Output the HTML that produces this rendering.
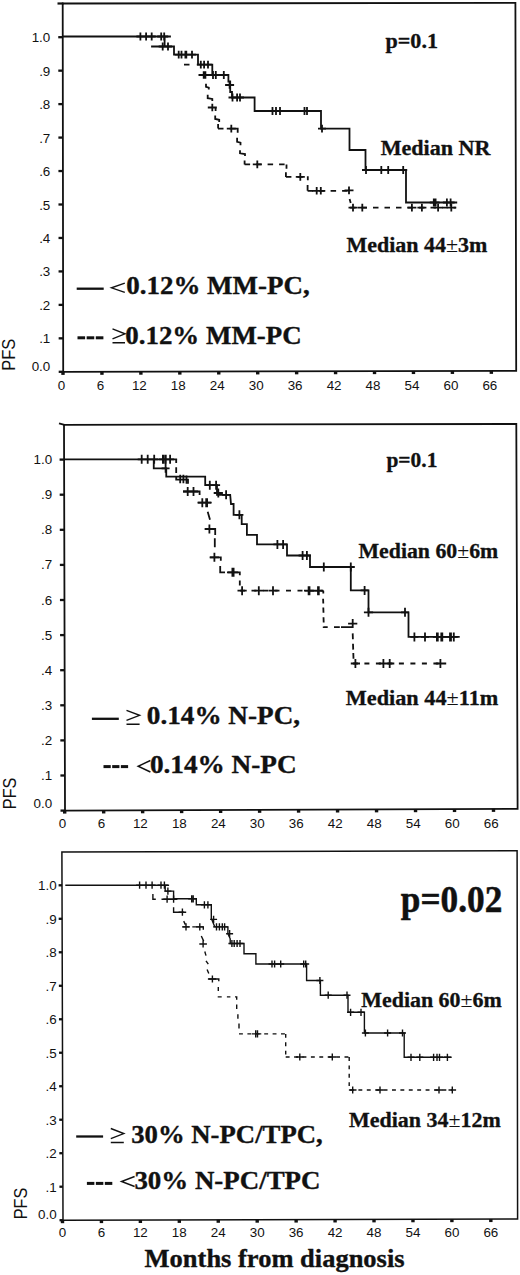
<!DOCTYPE html>
<html><head><meta charset="utf-8"><style>
html,body{margin:0;padding:0;background:#fff;}
svg{display:block;}
</style></head><body>
<svg width="520" height="1275" viewBox="0 0 520 1275">
<rect width="520" height="1275" fill="#fff"/>
<path d="M63.2,371.9 L62.7,3.5 L515.4,2.9 L516.2,370.8 Z" fill="none" stroke="#111" stroke-width="1.8" stroke-linejoin="miter"/>
<rect x="57.5" y="2.4" width="6" height="2.2" fill="#111"/>
<rect x="58.70" y="370.65" width="4.5" height="2.3" fill="#111"/>
<text x="50.30" y="370.80" font-family="Liberation Sans" font-size="13.4" text-anchor="end" fill="#111">0.0</text>
<rect x="58.65" y="337.19" width="4.5" height="2.3" fill="#111"/>
<text x="50.30" y="343.34" font-family="Liberation Sans" font-size="13.4" text-anchor="end" fill="#111">.1</text>
<rect x="58.61" y="303.73" width="4.5" height="2.3" fill="#111"/>
<text x="50.30" y="309.88" font-family="Liberation Sans" font-size="13.4" text-anchor="end" fill="#111">.2</text>
<rect x="58.56" y="270.27" width="4.5" height="2.3" fill="#111"/>
<text x="50.30" y="276.42" font-family="Liberation Sans" font-size="13.4" text-anchor="end" fill="#111">.3</text>
<rect x="58.52" y="236.81" width="4.5" height="2.3" fill="#111"/>
<text x="50.30" y="242.96" font-family="Liberation Sans" font-size="13.4" text-anchor="end" fill="#111">.4</text>
<rect x="58.47" y="203.35" width="4.5" height="2.3" fill="#111"/>
<text x="50.30" y="209.50" font-family="Liberation Sans" font-size="13.4" text-anchor="end" fill="#111">.5</text>
<rect x="58.43" y="169.89" width="4.5" height="2.3" fill="#111"/>
<text x="50.30" y="176.04" font-family="Liberation Sans" font-size="13.4" text-anchor="end" fill="#111">.6</text>
<rect x="58.38" y="136.43" width="4.5" height="2.3" fill="#111"/>
<text x="50.30" y="142.58" font-family="Liberation Sans" font-size="13.4" text-anchor="end" fill="#111">.7</text>
<rect x="58.34" y="102.97" width="4.5" height="2.3" fill="#111"/>
<text x="50.30" y="109.12" font-family="Liberation Sans" font-size="13.4" text-anchor="end" fill="#111">.8</text>
<rect x="58.29" y="69.51" width="4.5" height="2.3" fill="#111"/>
<text x="50.30" y="75.66" font-family="Liberation Sans" font-size="13.4" text-anchor="end" fill="#111">.9</text>
<rect x="58.25" y="36.05" width="4.5" height="2.3" fill="#111"/>
<text x="50.30" y="42.20" font-family="Liberation Sans" font-size="13.4" text-anchor="end" fill="#111">1.0</text>
<rect x="61.30" y="371.90" width="3.4" height="3" fill="#111"/>
<text x="61.50" y="389.60" font-family="Liberation Sans" font-size="13.4" text-anchor="middle" fill="#111">0</text>
<rect x="100.24" y="371.81" width="3.4" height="3" fill="#111"/>
<text x="100.44" y="389.60" font-family="Liberation Sans" font-size="13.4" text-anchor="middle" fill="#111">6</text>
<rect x="139.18" y="371.71" width="3.4" height="3" fill="#111"/>
<text x="139.38" y="389.60" font-family="Liberation Sans" font-size="13.4" text-anchor="middle" fill="#111">12</text>
<rect x="178.12" y="371.62" width="3.4" height="3" fill="#111"/>
<text x="178.32" y="389.60" font-family="Liberation Sans" font-size="13.4" text-anchor="middle" fill="#111">18</text>
<rect x="217.06" y="371.52" width="3.4" height="3" fill="#111"/>
<text x="217.26" y="389.60" font-family="Liberation Sans" font-size="13.4" text-anchor="middle" fill="#111">24</text>
<rect x="256.00" y="371.43" width="3.4" height="3" fill="#111"/>
<text x="256.20" y="389.60" font-family="Liberation Sans" font-size="13.4" text-anchor="middle" fill="#111">30</text>
<rect x="294.94" y="371.33" width="3.4" height="3" fill="#111"/>
<text x="295.14" y="389.60" font-family="Liberation Sans" font-size="13.4" text-anchor="middle" fill="#111">36</text>
<rect x="333.88" y="371.24" width="3.4" height="3" fill="#111"/>
<text x="334.08" y="389.60" font-family="Liberation Sans" font-size="13.4" text-anchor="middle" fill="#111">42</text>
<rect x="372.82" y="371.14" width="3.4" height="3" fill="#111"/>
<text x="373.02" y="389.60" font-family="Liberation Sans" font-size="13.4" text-anchor="middle" fill="#111">48</text>
<rect x="411.76" y="371.05" width="3.4" height="3" fill="#111"/>
<text x="411.96" y="389.60" font-family="Liberation Sans" font-size="13.4" text-anchor="middle" fill="#111">54</text>
<rect x="450.70" y="370.95" width="3.4" height="3" fill="#111"/>
<text x="450.90" y="389.60" font-family="Liberation Sans" font-size="13.4" text-anchor="middle" fill="#111">60</text>
<rect x="489.64" y="370.86" width="3.4" height="3" fill="#111"/>
<text x="489.84" y="389.60" font-family="Liberation Sans" font-size="13.4" text-anchor="middle" fill="#111">66</text>
<text transform="translate(15,370.8) rotate(-90)" x="0" y="0" font-family="Liberation Sans" font-size="18" textLength="32" lengthAdjust="spacingAndGlyphs" fill="#111">PFS</text>
<text x="385.5" y="47.7" font-family="Liberation Serif" font-weight="bold" font-size="20" textLength="52.5" lengthAdjust="spacingAndGlyphs" stroke="#111" stroke-width="0.3" fill="#111">p=0.1</text>
<text x="380.7" y="154.7" font-family="Liberation Serif" font-weight="bold" font-size="20.5" textLength="109.8" lengthAdjust="spacingAndGlyphs" stroke="#111" stroke-width="0.3" fill="#111">Median NR</text>
<text x="346.4" y="251.6" font-family="Liberation Serif" font-weight="bold" font-size="20.5" textLength="141" lengthAdjust="spacingAndGlyphs" stroke="#111" stroke-width="0.3" fill="#111">Median 44<tspan font-weight='normal' stroke-width='0'>±</tspan>3m</text>
<rect x="76.7" y="287.55" width="27.00" height="2.3" fill="#111"/>
<path d="M124.8,283.2 L111.5,287.79999999999995 L124.8,292.4" fill="none" stroke="#111" stroke-width="1.4"/>
<text x="126.2" y="294.3" font-family="Liberation Serif" font-weight="bold" font-size="25.6" textLength="183.5" lengthAdjust="spacingAndGlyphs" stroke="#111" stroke-width="0.35" fill="#111">0.12% MM-PC,</text>
<rect x="77.50" y="336.3" width="7.62" height="3" fill="#111"/>
<rect x="86.64" y="336.3" width="7.62" height="3" fill="#111"/>
<rect x="95.78" y="336.3" width="7.62" height="3" fill="#111"/>
<path d="M112.5,328.8 L125,333.84000000000003 L112.5,338.88 M112.5,342.8 H125" fill="none" stroke="#111" stroke-width="1.4"/>
<text x="125.3" y="343.6" font-family="Liberation Serif" font-weight="bold" font-size="25.6" textLength="176.3" lengthAdjust="spacingAndGlyphs" stroke="#111" stroke-width="0.35" fill="#111">0.12% MM-PC</text>
<path d="M63,36.5 H170 M164.6,36.5 V46.5 M152,46.5 H174 V54.6 H198 V64.7 H212.3 V75 H228.4 V81.5 H230.2 V92 H232 V97.5 H254.6 V111 H321 V128.7 H349.5 V150 H365.5 V170 H406 V202.5 H456.3" fill="none" stroke="#111" stroke-width="1.8" stroke-linejoin="miter" stroke-linecap="square"/>
<path d="M184,64.7 L189.5,64.7 M198.5,75 L212.3,75 M206,83.8 L206,86.88 L208.8,87.68 L208.8,89.6 M207.7,94.8 L207.7,98.17999999999999 L212.3,98.98 L212.3,101.1 M215.2,115.6 L215.2,118.97999999999999 L219.2,119.78 L219.2,121.9 M218.1,124 L218.1,128.6 M235,128.6 L237.7,128.6 L237.7,132.7 M215.6,107.5 L215.6,111 M237.1,137.7 L237.1,141.79999999999998 L240.5,142.6 L240.5,145.2 M240,150.2 L240,153.28 L245,154.08 L245,156 M244.6,160.4 L244.6,164.4 M286.5,164.4 L286.5,168.8 M285.9,172.2 L285.9,176.9 M307.8,176.2 L307.8,180.3 M307.6,185 L307.6,190.8 M349.6,199 L350.7,203" fill="none" stroke="#111" stroke-width="1.8" stroke-linecap="butt"/>
<path d="M218,128.6 L237.7,128.6 M244.6,164.4 L286.5,164.4 M285.9,176.9 L307.8,176.9 M307.6,190.8 L350,190.8 M350,207.6 L456.3,207.6" fill="none" stroke="#111" stroke-width="1.8" stroke-dasharray="5.5 6"/>
<path d="M140.4,32.6 V40.4 M136.4,36.5 H144.4 M146.1,32.6 V40.4 M142.1,36.5 H150.1 M151.7,32.6 V40.4 M147.7,36.5 H155.7 M161.2,32.6 V40.4 M157.2,36.5 H165.2 M164.2,32.6 V40.4 M160.2,36.5 H168.2 M162.7,42.6 V50.4 M158.7,46.5 H166.7 M168,42.6 V50.4 M164,46.5 H172 M178.7,50.7 V58.5 M174.7,54.6 H182.7 M181.5,50.7 V58.5 M177.5,54.6 H185.5 M185.4,50.7 V58.5 M181.4,54.6 H189.4 M186.3,50.7 V58.5 M182.3,54.6 H190.3 M192,50.7 V58.5 M188,54.6 H196 M200.8,60.800000000000004 V68.60000000000001 M196.8,64.7 H204.8 M204.1,60.800000000000004 V68.60000000000001 M200.1,64.7 H208.1 M208,60.800000000000004 V68.60000000000001 M204,64.7 H212 M213,71.1 V78.9 M209,75 H217 M215.8,71.1 V78.9 M211.8,75 H219.8 M223.8,71.1 V78.9 M219.8,75 H227.8 M232.5,93.6 V101.4 M228.5,97.5 H236.5 M237.1,93.6 V101.4 M233.1,97.5 H241.1 M240,93.6 V101.4 M236,97.5 H244 M272.5,107.1 V114.9 M268.5,111 H276.5 M276,107.1 V114.9 M272,111 H280 M280,107.1 V114.9 M276,111 H284 M304.5,107.1 V114.9 M300.5,111 H308.5 M307,107.1 V114.9 M303,111 H311 M322,124.79999999999998 V132.6 M318,128.7 H326 M366,166.1 V173.9 M362,170 H370 M381.3,166.1 V173.9 M377.3,170 H385.3 M388.2,166.1 V173.9 M384.2,170 H392.2 M403.2,166.1 V173.9 M399.2,170 H407.2 M433.8,198.6 V206.4 M429.8,202.5 H437.8 M435.6,198.6 V206.4 M431.6,202.5 H439.6 M446.9,198.6 V206.4 M442.9,202.5 H450.9 M450.6,198.6 V206.4 M446.6,202.5 H454.6" fill="none" stroke="#111" stroke-width="1.8"/>
<path d="M203.7,71.2 V78.8 M199.2,75 H208.2 M205.4,71.2 V78.8 M200.9,75 H209.9 M229.6,81.2 V88.8 M225.1,85 H234.1 M212.3,103.7 V111.3 M207.8,107.5 H216.8 M231.3,124.8 V132.4 M226.8,128.6 H235.8 M257.3,160.6 V168.20000000000002 M252.8,164.4 H261.8 M300.3,173.1 V180.70000000000002 M295.8,176.9 H304.8 M316.7,187.0 V194.60000000000002 M312.2,190.8 H321.2 M320.8,187.0 V194.60000000000002 M316.3,190.8 H325.3 M349,186.6 V194.20000000000002 M344.5,190.4 H353.5 M353,203.79999999999998 V211.4 M348.5,207.6 H357.5 M362.3,203.79999999999998 V211.4 M357.8,207.6 H366.8 M411.9,203.79999999999998 V211.4 M407.4,207.6 H416.4 M421.9,203.79999999999998 V211.4 M417.4,207.6 H426.4 M438.1,203.79999999999998 V211.4 M433.6,207.6 H442.6 M451.3,203.79999999999998 V211.4 M446.8,207.6 H455.8" fill="none" stroke="#111" stroke-width="1.8"/>
<path d="M65,810.6 L64,424.8 L516.3,424 L517.6,808.8 Z" fill="none" stroke="#111" stroke-width="1.8" stroke-linejoin="miter"/>
<path d="M59,423.3 L64.5,424.8" stroke="#111" stroke-width="1.8"/>
<rect x="60.50" y="809.45" width="4.5" height="2.3" fill="#111"/>
<text x="52.20" y="807.80" font-family="Liberation Sans" font-size="13.4" text-anchor="end" fill="#111">0.0</text>
<rect x="60.41" y="774.35" width="4.5" height="2.3" fill="#111"/>
<text x="52.20" y="780.00" font-family="Liberation Sans" font-size="13.4" text-anchor="end" fill="#111">.1</text>
<rect x="60.32" y="739.25" width="4.5" height="2.3" fill="#111"/>
<text x="52.20" y="744.90" font-family="Liberation Sans" font-size="13.4" text-anchor="end" fill="#111">.2</text>
<rect x="60.23" y="704.15" width="4.5" height="2.3" fill="#111"/>
<text x="52.20" y="709.80" font-family="Liberation Sans" font-size="13.4" text-anchor="end" fill="#111">.3</text>
<rect x="60.14" y="669.05" width="4.5" height="2.3" fill="#111"/>
<text x="52.20" y="674.70" font-family="Liberation Sans" font-size="13.4" text-anchor="end" fill="#111">.4</text>
<rect x="60.05" y="633.95" width="4.5" height="2.3" fill="#111"/>
<text x="52.20" y="639.60" font-family="Liberation Sans" font-size="13.4" text-anchor="end" fill="#111">.5</text>
<rect x="59.95" y="598.85" width="4.5" height="2.3" fill="#111"/>
<text x="52.20" y="604.50" font-family="Liberation Sans" font-size="13.4" text-anchor="end" fill="#111">.6</text>
<rect x="59.86" y="563.75" width="4.5" height="2.3" fill="#111"/>
<text x="52.20" y="569.40" font-family="Liberation Sans" font-size="13.4" text-anchor="end" fill="#111">.7</text>
<rect x="59.77" y="528.65" width="4.5" height="2.3" fill="#111"/>
<text x="52.20" y="534.30" font-family="Liberation Sans" font-size="13.4" text-anchor="end" fill="#111">.8</text>
<rect x="59.68" y="493.55" width="4.5" height="2.3" fill="#111"/>
<text x="52.20" y="499.20" font-family="Liberation Sans" font-size="13.4" text-anchor="end" fill="#111">.9</text>
<rect x="59.59" y="458.45" width="4.5" height="2.3" fill="#111"/>
<text x="52.20" y="464.10" font-family="Liberation Sans" font-size="13.4" text-anchor="end" fill="#111">1.0</text>
<rect x="63.00" y="810.60" width="3.4" height="3" fill="#111"/>
<text x="62.40" y="827.50" font-family="Liberation Sans" font-size="13.4" text-anchor="middle" fill="#111">0</text>
<rect x="101.98" y="810.45" width="3.4" height="3" fill="#111"/>
<text x="101.38" y="827.50" font-family="Liberation Sans" font-size="13.4" text-anchor="middle" fill="#111">6</text>
<rect x="140.96" y="810.29" width="3.4" height="3" fill="#111"/>
<text x="140.36" y="827.50" font-family="Liberation Sans" font-size="13.4" text-anchor="middle" fill="#111">12</text>
<rect x="179.95" y="810.14" width="3.4" height="3" fill="#111"/>
<text x="179.35" y="827.50" font-family="Liberation Sans" font-size="13.4" text-anchor="middle" fill="#111">18</text>
<rect x="218.93" y="809.98" width="3.4" height="3" fill="#111"/>
<text x="218.33" y="827.50" font-family="Liberation Sans" font-size="13.4" text-anchor="middle" fill="#111">24</text>
<rect x="257.91" y="809.83" width="3.4" height="3" fill="#111"/>
<text x="257.31" y="827.50" font-family="Liberation Sans" font-size="13.4" text-anchor="middle" fill="#111">30</text>
<rect x="296.89" y="809.67" width="3.4" height="3" fill="#111"/>
<text x="296.29" y="827.50" font-family="Liberation Sans" font-size="13.4" text-anchor="middle" fill="#111">36</text>
<rect x="335.87" y="809.51" width="3.4" height="3" fill="#111"/>
<text x="335.27" y="827.50" font-family="Liberation Sans" font-size="13.4" text-anchor="middle" fill="#111">42</text>
<rect x="374.86" y="809.36" width="3.4" height="3" fill="#111"/>
<text x="374.26" y="827.50" font-family="Liberation Sans" font-size="13.4" text-anchor="middle" fill="#111">48</text>
<rect x="413.84" y="809.20" width="3.4" height="3" fill="#111"/>
<text x="413.24" y="827.50" font-family="Liberation Sans" font-size="13.4" text-anchor="middle" fill="#111">54</text>
<rect x="452.82" y="809.05" width="3.4" height="3" fill="#111"/>
<text x="452.22" y="827.50" font-family="Liberation Sans" font-size="13.4" text-anchor="middle" fill="#111">60</text>
<rect x="491.80" y="808.89" width="3.4" height="3" fill="#111"/>
<text x="491.20" y="827.50" font-family="Liberation Sans" font-size="13.4" text-anchor="middle" fill="#111">66</text>
<text transform="translate(16.2,809.2) rotate(-90)" x="0" y="0" font-family="Liberation Sans" font-size="18" textLength="31.6" lengthAdjust="spacingAndGlyphs" fill="#111">PFS</text>
<text x="386.4" y="467.4" font-family="Liberation Serif" font-weight="bold" font-size="20" textLength="51" lengthAdjust="spacingAndGlyphs" stroke="#111" stroke-width="0.3" fill="#111">p=0.1</text>
<text x="358.5" y="557.9" font-family="Liberation Serif" font-weight="bold" font-size="20.5" textLength="139.8" lengthAdjust="spacingAndGlyphs" stroke="#111" stroke-width="0.3" fill="#111">Median 60<tspan font-weight='normal' stroke-width='0'>±</tspan>6m</text>
<text x="345.8" y="705.4" font-family="Liberation Serif" font-weight="bold" font-size="20.5" textLength="152.5" lengthAdjust="spacingAndGlyphs" stroke="#111" stroke-width="0.3" fill="#111">Median 44<tspan font-weight='normal' stroke-width='0'>±</tspan>11m</text>
<rect x="91.9" y="717.65" width="26.90" height="2.3" fill="#111"/>
<path d="M126.5,710.3 L139.6,715.304 L126.5,720.308 M126.5,724.2 H139.6" fill="none" stroke="#111" stroke-width="1.4"/>
<text x="146.8" y="724.2" font-family="Liberation Serif" font-weight="bold" font-size="25.6" textLength="153.3" lengthAdjust="spacingAndGlyphs" stroke="#111" stroke-width="0.35" fill="#111">0.14% N-PC,</text>
<rect x="103.50" y="765.1" width="7.24" height="3" fill="#111"/>
<rect x="112.18" y="765.1" width="7.24" height="3" fill="#111"/>
<rect x="120.86" y="765.1" width="7.24" height="3" fill="#111"/>
<path d="M150.4,760.5 L138.1,766.25 L150.4,772" fill="none" stroke="#111" stroke-width="1.4"/>
<text x="149.9" y="772.7" font-family="Liberation Serif" font-weight="bold" font-size="25.6" textLength="146.8" lengthAdjust="spacingAndGlyphs" stroke="#111" stroke-width="0.35" fill="#111">0.14% N-PC</text>
<path d="M65,459.3 H176.2 M153.75,459.3 V468.3 H166.25 V476.6 H205.2 V485.2 H217 V494.8 H230.2 L231,504 H233.6 V514.8 H241.7 V524.2 H246.9 V534.8 H257 V544.4 H287 V555.5 H310 V567 H350.8 V590.4 H368.5 V612.3 H408.5 V636.9 H458.8" fill="none" stroke="#111" stroke-width="1.8" stroke-linejoin="miter" stroke-linecap="square"/>
<path d="M176.2,459.3 L176.2,463 M176.2,467.3 L176.2,473 M176.2,476.5 L176.2,479.6 L188,479.6 L188,483.8 M183,491.5 L199.6,491.5 L199.6,495 M197.7,502.7 L211,502.7 M207.7,511.7 L210,519.8 M204.8,529 L215.2,529 L215.2,535 M214.8,538.3 L214.8,547.2 M209.8,557.3 L220.8,557.3 L220.8,560.8 M220.2,566 L220.2,572.3 L225,572.3 M227,572.3 L239.8,572.3 L239.8,575.2 M239.8,580.4 L239.8,585.6 M323.3,590.7 L323.3,593.6 M323.1,598.8 L323.3,603.5 M323.3,607.5 L323.5,612.7 M323.5,617.3 L323.7,622.5 M323.7,626.5 L323.7,627.2 L327.7,627.2 M334,627.2 L339.8,627.2 M341,627.2 L353,627.2 M352.7,633.4 L352.9,639.2 M353,643.8 L353.2,649.6 M353.3,653 L353.5,658.8" fill="none" stroke="#111" stroke-width="1.8" stroke-linecap="butt"/>
<path d="M240,590.7 L323.3,590.7 M352.9,663.5 L446.2,663.5" fill="none" stroke="#111" stroke-width="1.8" stroke-dasharray="5 6.5"/>
<path d="M141.7,454.8 V463.8 M137.7,459.3 H145.7 M147.7,454.8 V463.8 M143.7,459.3 H151.7 M154.2,454.8 V463.8 M150.2,459.3 H158.2 M162.9,454.8 V463.8 M158.9,459.3 H166.9 M163.8,454.8 V463.8 M159.8,459.3 H167.8 M165.8,454.8 V463.8 M161.8,459.3 H169.8 M170.1,454.8 V463.8 M166.1,459.3 H174.1 M165.6,463.8 V472.8 M161.6,468.3 H169.6 M209.8,480.7 V489.7 M205.8,485.2 H213.8 M216.1,480.7 V489.7 M212.1,485.2 H220.1 M226.1,490.3 V499.3 M222.1,494.8 H230.1 M239.4,510.29999999999995 V519.3 M235.4,514.8 H243.4 M277.4,539.9 V548.9 M273.4,544.4 H281.4 M283.1,539.9 V548.9 M279.1,544.4 H287.1 M302.6,551.0 V560.0 M298.6,555.5 H306.6 M306.9,551.0 V560.0 M302.9,555.5 H310.9 M323.8,562.5 V571.5 M319.8,567 H327.8 M350.8,562.5 V571.5 M346.8,567 H354.8 M364.6,585.9 V594.9 M360.6,590.4 H368.6 M405,607.8 V616.8 M401,612.3 H409 M414.4,632.4 V641.4 M410.4,636.9 H418.4 M425,632.4 V641.4 M421,636.9 H429 M436.9,632.4 V641.4 M432.9,636.9 H440.9 M437.8,632.4 V641.4 M433.8,636.9 H441.8 M441.3,632.4 V641.4 M437.3,636.9 H445.3 M442.3,632.4 V641.4 M438.3,636.9 H446.3 M450,632.4 V641.4 M446,636.9 H454 M451,632.4 V641.4 M447,636.9 H455 M453.8,632.4 V641.4 M449.8,636.9 H457.8" fill="none" stroke="#111" stroke-width="1.8"/>
<path d="M218.3,488.5 V497.5 M213.70000000000002,493 H222.9 M368.5,607.8 V616.8 M363.9,612.3 H373.1 M187.7,487.0 V496.0 M183.1,491.5 H192.29999999999998 M193.5,487.0 V496.0 M188.9,491.5 H198.1 M202.3,498.2 V507.2 M197.70000000000002,502.7 H206.9 M206.2,498.2 V507.2 M201.6,502.7 H210.79999999999998 M207.1,498.2 V507.2 M202.5,502.7 H211.7 M209.4,524.5 V533.5 M204.8,529 H214.0 M214.4,552.8 V561.8 M209.8,557.3 H219.0 M232.4,567.8 V576.8 M227.8,572.3 H237.0 M233.6,567.8 V576.8 M229.0,572.3 H238.2 M242.1,586.2 V595.2 M237.5,590.7 H246.7 M258.8,586.2 V595.2 M254.20000000000002,590.7 H263.40000000000003 M273,586.2 V595.2 M268.4,590.7 H277.6 M308.6,586.2 V595.2 M304.0,590.7 H313.20000000000005 M318,586.2 V595.2 M313.4,590.7 H322.6 M309.5,586.3 V595.3 M304.9,590.8 H314.1 M318.8,586.3 V595.3 M314.2,590.8 H323.40000000000003 M352.7,619.1 V628.1 M348.09999999999997,623.6 H357.3 M355.4,659.0 V668.0 M350.79999999999995,663.5 H360.0 M383.4,659.0 V668.0 M378.79999999999995,663.5 H388.0 M389.7,659.0 V668.0 M385.09999999999997,663.5 H394.3 M440.4,659.0 V668.0 M435.79999999999995,663.5 H445.0" fill="none" stroke="#111" stroke-width="1.8"/>
<path d="M180.2,474.8 V483.2 M183.4,474.8 V483.2 M186.5,475.40000000000003 V483.8" fill="none" stroke="#111" stroke-width="1.8"/>
<path d="M63,1220.2 L61.9,851.9 L517.1,850.8 L517.6,1219 Z" fill="none" stroke="#111" stroke-width="1.5" stroke-linejoin="miter"/>
<rect x="59.50" y="1219.05" width="3.5" height="2.3" fill="#111"/>
<text x="56.60" y="1219.10" font-family="Liberation Sans" font-size="13.4" text-anchor="end" fill="#111">0.0</text>
<rect x="59.41" y="1185.56" width="3.5" height="2.3" fill="#111"/>
<text x="56.60" y="1191.61" font-family="Liberation Sans" font-size="13.4" text-anchor="end" fill="#111">.1</text>
<rect x="59.32" y="1152.07" width="3.5" height="2.3" fill="#111"/>
<text x="56.60" y="1158.12" font-family="Liberation Sans" font-size="13.4" text-anchor="end" fill="#111">.2</text>
<rect x="59.23" y="1118.58" width="3.5" height="2.3" fill="#111"/>
<text x="56.60" y="1124.63" font-family="Liberation Sans" font-size="13.4" text-anchor="end" fill="#111">.3</text>
<rect x="59.14" y="1085.09" width="3.5" height="2.3" fill="#111"/>
<text x="56.60" y="1091.14" font-family="Liberation Sans" font-size="13.4" text-anchor="end" fill="#111">.4</text>
<rect x="59.05" y="1051.60" width="3.5" height="2.3" fill="#111"/>
<text x="56.60" y="1057.65" font-family="Liberation Sans" font-size="13.4" text-anchor="end" fill="#111">.5</text>
<rect x="58.95" y="1018.11" width="3.5" height="2.3" fill="#111"/>
<text x="56.60" y="1024.16" font-family="Liberation Sans" font-size="13.4" text-anchor="end" fill="#111">.6</text>
<rect x="58.86" y="984.62" width="3.5" height="2.3" fill="#111"/>
<text x="56.60" y="990.67" font-family="Liberation Sans" font-size="13.4" text-anchor="end" fill="#111">.7</text>
<rect x="58.77" y="951.13" width="3.5" height="2.3" fill="#111"/>
<text x="56.60" y="957.18" font-family="Liberation Sans" font-size="13.4" text-anchor="end" fill="#111">.8</text>
<rect x="58.68" y="917.64" width="3.5" height="2.3" fill="#111"/>
<text x="56.60" y="923.69" font-family="Liberation Sans" font-size="13.4" text-anchor="end" fill="#111">.9</text>
<rect x="58.59" y="884.15" width="3.5" height="2.3" fill="#111"/>
<text x="56.60" y="890.20" font-family="Liberation Sans" font-size="13.4" text-anchor="end" fill="#111">1.0</text>
<rect x="60.80" y="1220.20" width="3.4" height="3" fill="#111"/>
<text x="62.50" y="1236.60" font-family="Liberation Sans" font-size="13.4" text-anchor="middle" fill="#111">0</text>
<rect x="99.74" y="1220.10" width="3.4" height="3" fill="#111"/>
<text x="101.44" y="1236.60" font-family="Liberation Sans" font-size="13.4" text-anchor="middle" fill="#111">6</text>
<rect x="138.68" y="1220.00" width="3.4" height="3" fill="#111"/>
<text x="140.38" y="1236.60" font-family="Liberation Sans" font-size="13.4" text-anchor="middle" fill="#111">12</text>
<rect x="177.62" y="1219.89" width="3.4" height="3" fill="#111"/>
<text x="179.32" y="1236.60" font-family="Liberation Sans" font-size="13.4" text-anchor="middle" fill="#111">18</text>
<rect x="216.56" y="1219.79" width="3.4" height="3" fill="#111"/>
<text x="218.26" y="1236.60" font-family="Liberation Sans" font-size="13.4" text-anchor="middle" fill="#111">24</text>
<rect x="255.50" y="1219.69" width="3.4" height="3" fill="#111"/>
<text x="257.20" y="1236.60" font-family="Liberation Sans" font-size="13.4" text-anchor="middle" fill="#111">30</text>
<rect x="294.44" y="1219.58" width="3.4" height="3" fill="#111"/>
<text x="296.14" y="1236.60" font-family="Liberation Sans" font-size="13.4" text-anchor="middle" fill="#111">36</text>
<rect x="333.38" y="1219.48" width="3.4" height="3" fill="#111"/>
<text x="335.08" y="1236.60" font-family="Liberation Sans" font-size="13.4" text-anchor="middle" fill="#111">42</text>
<rect x="372.32" y="1219.38" width="3.4" height="3" fill="#111"/>
<text x="374.02" y="1236.60" font-family="Liberation Sans" font-size="13.4" text-anchor="middle" fill="#111">48</text>
<rect x="411.26" y="1219.27" width="3.4" height="3" fill="#111"/>
<text x="412.96" y="1236.60" font-family="Liberation Sans" font-size="13.4" text-anchor="middle" fill="#111">54</text>
<rect x="450.20" y="1219.17" width="3.4" height="3" fill="#111"/>
<text x="451.90" y="1236.60" font-family="Liberation Sans" font-size="13.4" text-anchor="middle" fill="#111">60</text>
<rect x="489.14" y="1219.07" width="3.4" height="3" fill="#111"/>
<text x="490.84" y="1236.60" font-family="Liberation Sans" font-size="13.4" text-anchor="middle" fill="#111">66</text>
<text transform="translate(26.9,1219.3) rotate(-90)" x="0" y="0" font-family="Liberation Sans" font-size="18" textLength="31.6" lengthAdjust="spacingAndGlyphs" fill="#111">PFS</text>
<text x="400.8" y="912" font-family="Liberation Serif" font-weight="bold" font-size="37" textLength="101.5" lengthAdjust="spacingAndGlyphs" stroke="#111" stroke-width="0.5" fill="#111">p=0.02</text>
<text x="361.3" y="1006.6" font-family="Liberation Serif" font-weight="bold" font-size="20.5" textLength="140.5" lengthAdjust="spacingAndGlyphs" stroke="#111" stroke-width="0.3" fill="#111">Median 60<tspan font-weight='normal' stroke-width='0'>±</tspan>6m</text>
<text x="349" y="1126.6" font-family="Liberation Serif" font-weight="bold" font-size="20.5" textLength="151.8" lengthAdjust="spacingAndGlyphs" stroke="#111" stroke-width="0.3" fill="#111">Median 34<tspan font-weight='normal' stroke-width='0'>±</tspan>12m</text>
<rect x="76.2" y="1135.35" width="26.90" height="2.3" fill="#111"/>
<path d="M110.8,1128.5 L123.8,1133.54 L110.8,1138.58 M110.8,1142.5 H123.8" fill="none" stroke="#111" stroke-width="1.4"/>
<text x="131.2" y="1143" font-family="Liberation Serif" font-weight="bold" font-size="25.6" textLength="191.5" lengthAdjust="spacingAndGlyphs" stroke="#111" stroke-width="0.35" fill="#111">30% N-PC/TPC,</text>
<rect x="86.90" y="1181.9" width="7.47" height="3" fill="#111"/>
<rect x="95.86" y="1181.9" width="7.47" height="3" fill="#111"/>
<rect x="104.83" y="1181.9" width="7.47" height="3" fill="#111"/>
<path d="M134.6,1176.5 L121.5,1181.5 L134.6,1186.5" fill="none" stroke="#111" stroke-width="1.4"/>
<text x="134.4" y="1189" font-family="Liberation Serif" font-weight="bold" font-size="25.6" textLength="186.1" lengthAdjust="spacingAndGlyphs" stroke="#111" stroke-width="0.35" fill="#111">30% N-PC/TPC</text>
<path d="M66,885.2 H168.4 M165.2,885.2 V891.1 H173.6 V898.8 H196.3 V904.8 H211.3 V918.3 L214.8,926.9 H227.9 V933.7 L230.2,938.8 V943.5 H244 V953.7 H255.9 V964 H306.6 V980.5 H320.4 V995.2 H348 V1012.3 H364.4 V1033 H404.2 V1057.3 H451" fill="none" stroke="#111" stroke-width="1.4" stroke-linejoin="miter" stroke-linecap="square"/>
<path d="M152.9,894 L152.9,899.2 L155.8,899.2 M161.5,899.2 L174.8,899.2 M173.6,907.3 L173.6,912.2 L184.2,912.2 M183.7,921.1 L185.4,924.6 M182.5,926.9 L189.4,926.9 M192.3,926.9 L203.3,926.9 L203.3,929.8 M201.3,936 L203.7,941.1 M204.8,951.5 L206,955.6 M206,960.8 L208.3,964.2 M207.1,969.4 L208.8,973.4 M207.9,979 L218.8,979 L218.8,981.3 M218.3,987.1 L218.3,991.1 M217.7,996.9 L221.7,996.9 M226.9,996.9 L230.4,996.9 M235,996.9 L236.7,996.9 L236.7,999.8 M236.7,1004.4 L236.7,1009 M237.9,1014.2 L237.9,1018.8 M239,1023.4 L239,1028.6" fill="none" stroke="#111" stroke-width="1.4" stroke-linecap="butt"/>
<path d="M239,1033.9 L285.7,1033.9 M285.7,1033.9 L285.7,1057 M285.7,1057 L349.2,1057 M349.2,1057 L349.2,1090 M350,1090 L452.6,1090" fill="none" stroke="#111" stroke-width="1.4" stroke-dasharray="3.9 4.5"/>
<path d="M139.6,881.6 V888.8000000000001 M136.1,885.2 H143.1 M146,881.6 V888.8000000000001 M142.5,885.2 H149.5 M152.1,881.6 V888.8000000000001 M148.6,885.2 H155.6 M161,881.6 V888.8000000000001 M157.5,885.2 H164.5 M164.4,881.6 V888.8000000000001 M160.9,885.2 H167.9 M167.9,887.5 V894.7 M164.4,891.1 H171.4 M191.7,895.1999999999999 V902.4 M188.2,898.8 H195.2 M193.2,895.1999999999999 V902.4 M189.7,898.8 H196.7 M204.4,901.1999999999999 V908.4 M200.9,904.8 H207.9 M207.9,901.1999999999999 V908.4 M204.4,904.8 H211.4 M213.6,915.8 V923.0 M210.1,919.4 H217.1 M216.5,923.3 V930.5 M213.0,926.9 H220.0 M219.4,923.3 V930.5 M215.9,926.9 H222.9 M222.3,923.3 V930.5 M218.8,926.9 H225.8 M224.6,923.3 V930.5 M221.1,926.9 H228.1 M229.6,930.1 V937.3000000000001 M226.1,933.7 H233.1 M231.9,939.9 V947.1 M228.4,943.5 H235.4 M234.2,939.9 V947.1 M230.7,943.5 H237.7 M237.1,939.9 V947.1 M233.6,943.5 H240.6 M240,939.9 V947.1 M236.5,943.5 H243.5 M272,960.4 V967.6 M268.5,964 H275.5 M274.6,960.4 V967.6 M271.1,964 H278.1 M280.7,960.4 V967.6 M277.2,964 H284.2 M303.7,960.4 V967.6 M300.2,964 H307.2 M305.7,960.4 V967.6 M302.2,964 H309.2 M319.9,976.9 V984.1 M316.4,980.5 H323.4 M328.2,991.6 V998.8000000000001 M324.7,995.2 H331.7 M347,991.6 V998.8000000000001 M343.5,995.2 H350.5 M350.6,1008.6999999999999 V1015.9 M347.1,1012.3 H354.1 M361,1008.6999999999999 V1015.9 M357.5,1012.3 H364.5 M365.4,1029.4 V1036.6 M361.9,1033 H368.9 M387.6,1029.4 V1036.6 M384.1,1033 H391.1 M402.5,1029.4 V1036.6 M399.0,1033 H406.0 M411,1053.7 V1060.8999999999999 M407.5,1057.3 H414.5 M419.8,1053.7 V1060.8999999999999 M416.3,1057.3 H423.3 M433.6,1053.7 V1060.8999999999999 M430.1,1057.3 H437.1 M437,1053.7 V1060.8999999999999 M433.5,1057.3 H440.5 M439.5,1053.7 V1060.8999999999999 M436.0,1057.3 H443.0 M447.4,1053.7 V1060.8999999999999 M443.9,1057.3 H450.9" fill="none" stroke="#111" stroke-width="1.4"/>
<path d="M167.1,895.6 V902.8000000000001 M163.29999999999998,899.2 H170.9 M173.6,895.6 V902.8000000000001 M169.79999999999998,899.2 H177.4 M182.4,908.6 V915.8000000000001 M178.6,912.2 H186.20000000000002 M186,923.3 V930.5 M182.2,926.9 H189.8 M199.8,923.3 V930.5 M196.0,926.9 H203.60000000000002 M203.1,940.4 V947.6 M199.29999999999998,944 H206.9 M212.4,975.4 V982.6 M208.6,979 H216.20000000000002 M255.7,1030.3000000000002 V1037.5 M251.89999999999998,1033.9 H259.5 M257.5,1030.3000000000002 V1037.5 M253.7,1033.9 H261.3 M299.8,1053.4 V1060.6 M296.0,1057 H303.6 M332.3,1053.4 V1060.6 M328.5,1057 H336.1 M352.7,1086.4 V1093.6 M348.9,1090 H356.5 M380,1086.4 V1093.6 M376.2,1090 H383.8 M439,1086.4 V1093.6 M435.2,1090 H442.8 M452.3,1086.4 V1093.6 M448.5,1090 H456.1" fill="none" stroke="#111" stroke-width="1.4"/>
<text x="144.6" y="1266.6" font-family="Liberation Serif" font-weight="bold" font-size="26" textLength="260" lengthAdjust="spacingAndGlyphs" stroke="#111" stroke-width="0.35" fill="#111">Months from diagnosis</text>
</svg>
</body></html>
